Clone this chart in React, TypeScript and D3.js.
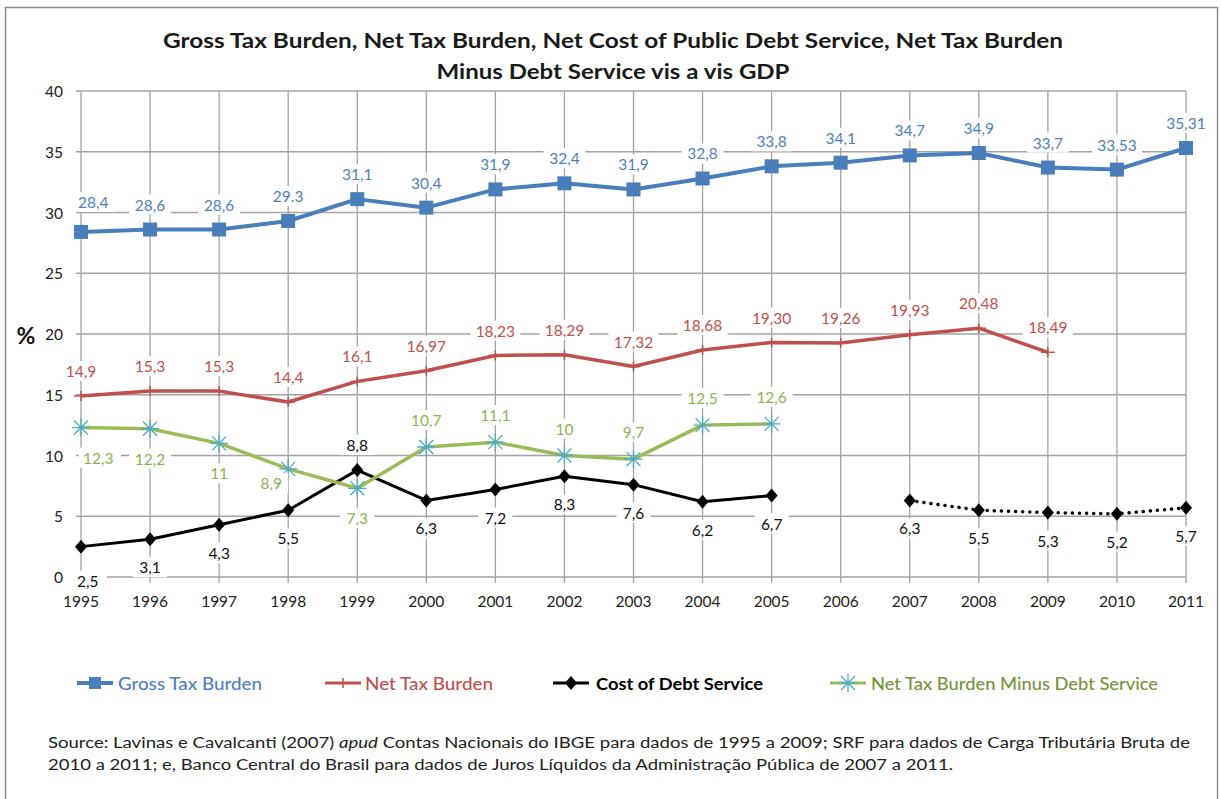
import React from "react";
import * as d3 from "d3";

const years = [1995, 1996, 1997, 1998, 1999, 2000, 2001, 2002, 2003, 2004, 2005, 2006, 2007, 2008, 2009, 2010, 2011];
const yTicks = [0, 5, 10, 15, 20, 25, 30, 35, 40];

const grossTax = [28.4, 28.6, 28.6, 29.3, 31.1, 30.4, 31.9, 32.4, 31.9, 32.8, 33.8, 34.1, 34.7, 34.9, 33.7, 33.53, 35.31];
const grossTaxLabels = ["28,4", "28,6", "28,6", "29.3", "31,1", "30,4", "31,9", "32,4", "31,9", "32,8", "33,8", "34,1", "34,7", "34,9", "33,7", "33,53", "35,31"];

const netTax: (number | null)[] = [14.9, 15.3, 15.3, 14.4, 16.1, 16.97, 18.23, 18.29, 17.32, 18.68, 19.3, 19.26, 19.93, 20.48, 18.49, null, null];
const netTaxLabels = ["14,9", "15,3", "15,3", "14,4", "16,1", "16,97", "18,23", "18,29", "17,32", "18,68", "19,30", "19,26", "19,93", "20,48", "18,49", "", ""];

const debtService: (number | null)[] = [2.5, 3.1, 4.3, 5.5, 8.8, 6.3, 7.2, 8.3, 7.6, 6.2, 6.7, null, 6.3, 5.5, 5.3, 5.2, 5.7];
const debtDottedFrom = 2007;

const netMinusDebt: (number | null)[] = [12.3, 12.2, 11, 8.9, 7.3, 10.7, 11.1, 10, 9.7, 12.5, 12.6, null, null, null, null, null, null];

const seriesNames = ["Gross Tax Burden", "Net Tax Burden", "Cost of Debt Service", "Net Tax Burden Minus Debt Service"];

const titleLines = [
  "Gross Tax Burden, Net Tax Burden, Net Cost of Public Debt Service,  Net Tax Burden",
  "Minus Debt Service vis a vis GDP",
];

const FONT = "Lato, 'Open Sans', sans-serif";
const BLUE = "#4a7ebb";
const BLUE_TXT = "#4f7fc0";
const RED = "#c0504d";
const GREEN = "#9bbb59";
const GREEN_TXT = "#8db350";
const CYAN = "#4bacc6";
const GRID = "#a3a3a3";

const fmt = (v: number) => String(v).replace(".", ",");

type Pt = { year: number; v: number; label: string };

function Label({ x, y, text, color, anchor = "middle" }: any) {
  const w = text.length * 8 + 10;
  const rx = anchor === "start" ? x - 4 : x - w / 2;
  return (
    <g>
      <rect x={rx} y={y - 10} width={w} height={20} fill="#fff" />
      <text x={x} y={y} fill={color} fontSize={15.5} fontFamily={FONT} textAnchor={anchor} dominantBaseline="central">
        {text}
      </text>
    </g>
  );
}

export default function App() {
  const x = d3.scalePoint<number>().domain(years).range([81, 1186]);
  const y = d3.scaleLinear().domain([0, 40]).range([577, 91]);
  const X = (yr: number) => x(yr) as number;

  const toPts = (vals: (number | null)[], labels?: string[]): Pt[] =>
    vals
      .map((v, i) => (v == null ? null : { year: years[i], v, label: labels ? labels[i] : fmt(v) }))
      .filter(Boolean) as Pt[];

  const grossPts = toPts(grossTax, grossTaxLabels);
  const netPts = toPts(netTax, netTaxLabels);
  const debtPts = toPts(debtService);
  const debtSolid = debtPts.filter((p) => p.year < debtDottedFrom);
  const debtDotted = debtPts.filter((p) => p.year >= debtDottedFrom);
  const greenPts = toPts(netMinusDebt);

  const line = d3
    .line<Pt>()
    .x((p) => X(p.year))
    .y((p) => y(p.v));

  const square = (p: Pt, i: number) => (
    <rect key={i} x={X(p.year) - 7} y={y(p.v) - 7} width={14} height={14} fill={BLUE} />
  );
  const diamond = (cx: number, cy: number, k: any) => (
    <path key={k} d={`M${cx},${cy - 7}L${cx + 6},${cy}L${cx},${cy + 7}L${cx - 6},${cy}Z`} fill="#000" />
  );
  const star = (cx: number, cy: number, k: any) => (
    <path
      key={k}
      d={`M${cx - 7},${cy - 7}L${cx + 7},${cy + 7}M${cx - 7},${cy + 7}L${cx + 7},${cy - 7}M${cx},${cy - 9}L${cx},${cy + 9}M${cx - 9},${cy}L${cx + 9},${cy}`}
      stroke={CYAN}
      strokeWidth={1.3}
      fill="none"
    />
  );
  const plus = (cx: number, cy: number, k: any) => (
    <path key={k} d={`M${cx - 7},${cy}L${cx + 7},${cy}M${cx},${cy - 5}L${cx},${cy + 5}`} stroke={RED} strokeWidth={1.5} fill="none" />
  );

  // label placement rules
  const greenBelow = (yr: number) => yr <= 1999;
  const debtAbove = (yr: number) => yr === 1999;

  const legendY = 683;
  const legend = [
    { x0: 77, tx: 118, tw: 144, name: seriesNames[0], color: BLUE_TXT, stroke: BLUE, sw: 4, weight: 500 },
    { x0: 325, tx: 365, tw: 128, name: seriesNames[1], color: RED, stroke: RED, sw: 3, weight: 500 },
    { x0: 553, tx: 596, tw: 167, name: seriesNames[2], color: "#000", stroke: "#000", sw: 3, weight: 700 },
    { x0: 830, tx: 871, tw: 287, name: seriesNames[3], color: "#77933c", stroke: GREEN, sw: 3, weight: 500 },
  ];

  return (
    <svg width={1221} height={799} style={{ position: "absolute", left: 0, top: 0, background: "#fff" }} fontFamily={FONT}>
      <rect x={0} y={0} width={1221} height={799} fill="#fff" />
      <rect x={5.5} y={7.5} width={1212} height={800} fill="none" stroke="#8c8c8c" strokeWidth={1.5} />

      {/* title */}
      <text x={613} y={48} textAnchor="middle" fontSize={21.5} fontWeight={700} fill="#1a1a1a" textLength={900} lengthAdjust="spacingAndGlyphs">
        {titleLines[0]}
      </text>
      <text x={613} y={79} textAnchor="middle" fontSize={21.5} fontWeight={700} fill="#1a1a1a" textLength={353} lengthAdjust="spacingAndGlyphs">
        {titleLines[1]}
      </text>

      {/* grid */}
      {yTicks.map((t) => (
        <line key={"h" + t} x1={76} x2={X(years[years.length - 1])} y1={y(t)} y2={y(t)} stroke={GRID} strokeWidth={1.3} />
      ))}
      {years.map((yr) => (
        <line key={"v" + yr} x1={X(yr)} x2={X(yr)} y1={y(40)} y2={y(0) + 6} stroke={GRID} strokeWidth={1.3} />
      ))}

      {/* axis labels */}
      {yTicks.map((t) => (
        <text key={"yl" + t} x={63} y={y(t)} textAnchor="end" dominantBaseline="central" fontSize={15.5} fill="#222">
          {t}
        </text>
      ))}
      {years.map((yr) => (
        <text key={"xl" + yr} x={X(yr)} y={601} textAnchor="middle" dominantBaseline="central" fontSize={15.5} fill="#222">
          {yr}
        </text>
      ))}
      <text x={26} y={335} textAnchor="middle" dominantBaseline="central" fontSize={23} fontWeight={700} fill="#111">
        %
      </text>

      {/* lines */}
      <path d={line(grossPts) || ""} fill="none" stroke={BLUE} strokeWidth={4} strokeLinejoin="round" />
      <path d={line(netPts) || ""} fill="none" stroke={RED} strokeWidth={3.5} strokeLinejoin="round" />
      <path d={line(debtSolid) || ""} fill="none" stroke="#000" strokeWidth={3} strokeLinejoin="round" />
      <path d={line(debtDotted) || ""} fill="none" stroke="#000" strokeWidth={3.5} strokeDasharray="0.1 7" strokeLinecap="round" />
      <path d={line(greenPts) || ""} fill="none" stroke={GREEN} strokeWidth={3.5} strokeLinejoin="round" />

      {/* markers */}
      {grossPts.map(square)}
      {netPts.map((p, i) => plus(X(p.year), y(p.v), i))}
      {debtPts.map((p, i) => diamond(X(p.year), y(p.v), i))}
      {greenPts.map((p, i) => star(X(p.year), y(p.v), i))}

      {/* data labels */}
      {grossPts.map((p, i) => (
        <Label key={"gl" + i} x={i === 0 ? X(p.year) - 3 : X(p.year)} y={y(p.v) - (i === 0 ? 30 : 25)} text={p.label} color={BLUE_TXT} anchor={i === 0 ? "start" : "middle"} />
      ))}
      {netPts.map((p, i) => (
        <Label key={"nl" + i} x={X(p.year)} y={y(p.v) - 25} text={p.label} color={RED} />
      ))}
      {greenPts.map((p, i) => {
        const leftShift = p.year === 1998;
        const dy = greenBelow(p.year) ? (leftShift ? 14 : 30) : -27;
        return (
          <Label
            key={"grl" + i}
            x={i === 0 ? X(p.year) + 2 : X(p.year) - (leftShift ? 17 : 0)}
            y={y(p.v) + dy}
            text={p.label}
            color={GREEN_TXT}
            anchor={i === 0 ? "start" : "middle"}
          />
        );
      })}
      {debtPts.map((p, i) => (
        <Label
          key={"dl" + i}
          x={i === 0 ? X(p.year) - 4 : X(p.year)}
          y={y(p.v) + (debtAbove(p.year) ? -25 : i === 0 ? 34 : 28)}
          text={p.label}
          color="#111"
          anchor={i === 0 ? "start" : "middle"}
        />
      ))}

      {/* legend */}
      {legend.map((l, i) => {
        const cx = l.x0 + 18;
        return (
          <g key={"lg" + i}>
            <line x1={l.x0} x2={l.x0 + 36} y1={legendY} y2={legendY} stroke={l.stroke} strokeWidth={l.sw} />
            {i === 0 && <rect x={cx - 6} y={legendY - 6} width={12} height={12} fill={BLUE} />}
            {i === 1 && plus(cx, legendY, "lp")}
            {i === 2 && diamond(cx, legendY, "ld")}
            {i === 3 && star(cx, legendY, "ls")}
            <text x={l.tx} y={legendY} dominantBaseline="central" fontSize={17.5} fill={l.color} fontWeight={l.weight} textLength={l.tw} lengthAdjust="spacingAndGlyphs">
              {l.name}
            </text>
          </g>
        );
      })}

      {/* source */}
      <text x={48} y={748} fontSize={14.5} fill="#222" textLength={1142} lengthAdjust="spacingAndGlyphs">
        Source: Lavinas e Cavalcanti (2007) <tspan fontStyle="italic">apud</tspan> Contas Nacionais do IBGE para dados de 1995 a 2009; SRF para dados de Carga Tributária Bruta de
      </text>
      <text x={48} y={770} fontSize={14.5} fill="#222" textLength={905} lengthAdjust="spacingAndGlyphs">
        2010 a 2011; e, Banco Central do Brasil para dados de Juros Líquidos da Administração Pública de 2007 a 2011.
      </text>
    </svg>
  );
}
